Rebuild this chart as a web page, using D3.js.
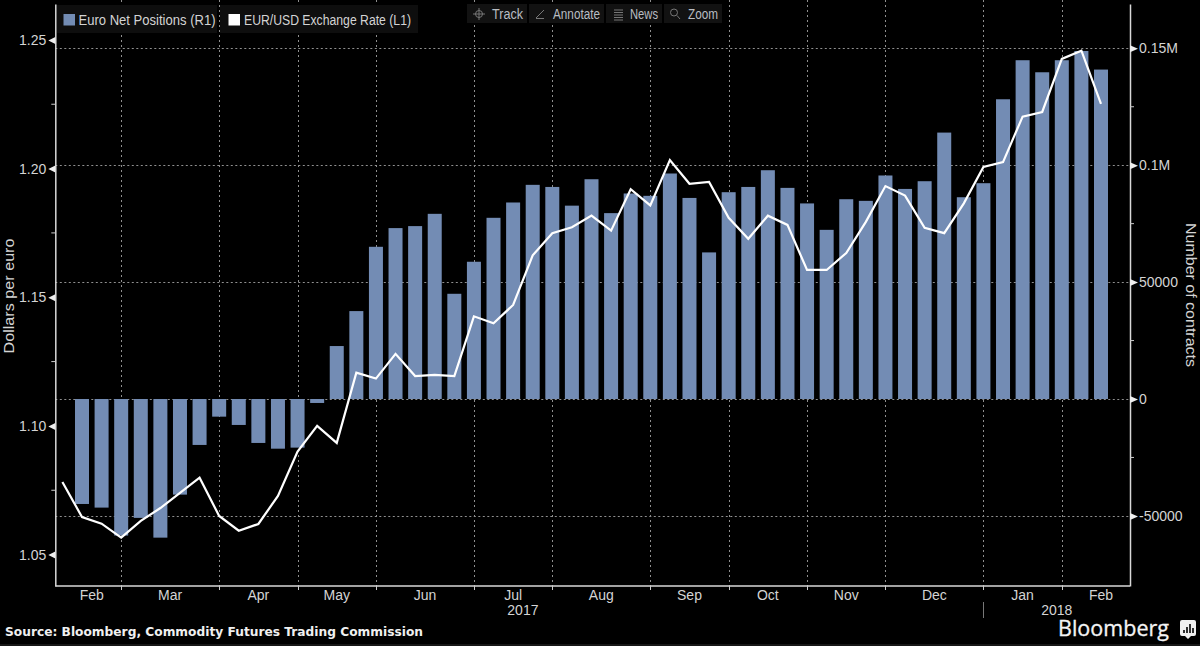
<!DOCTYPE html>
<html><head><meta charset="utf-8">
<script src="https://cdn.jsdelivr.net/npm/d3@7/dist/d3.min.js"></script>
<style>
html,body{margin:0;padding:0;background:#000;}
svg{display:block;}
text{font-family:"Liberation Sans Narrow","Liberation Sans",sans-serif;}
</style></head><body>
<svg id="c" width="1200" height="646"></svg>
<script>
const positions=[-44900,-46450,-58400,-50850,-59300,-40900,-19650,-7550,-11100,-18800,-21250,-20800,-1700,
22650,37600,65100,73100,73950,79200,45000,58700,77500,84050,91600,90700,82700,94000,79500,87900,86900,96450,86000,62700,
88450,90700,97850,90300,83650,72350,85450,84750,95600,89850,93150,113950,86300,92300,128200,144900,139750,144900,148850,140900];
const rates=[1.0782,1.0646,1.0620,1.0566,1.0631,1.0681,1.0740,1.0799,1.0650,1.0593,1.0619,1.0728,1.0900,1.1000,1.0934,
1.1207,1.1184,1.1280,1.1194,1.1198,1.1194,1.1426,1.1399,1.1470,1.1663,1.1749,1.1772,1.1817,1.1759,1.1920,1.1857,1.2033,
1.1941,1.1948,1.1809,1.1727,1.1817,1.1781,1.1606,1.1606,1.1672,1.1793,1.1932,1.1895,1.1770,1.1749,1.1865,1.2006,1.2025,
1.2202,1.2220,1.2426,1.2458,1.2251];
const monthLabels=["Feb","Mar","Apr","May","Jun","Jul","Aug","Sep","Oct","Nov","Dec","Jan","Feb"];
const monthStarts=[-1,2,7,11,15,20,24,29,33,37,41,46,50,54];
const leftTicks=[1.05,1.10,1.15,1.20,1.25];
const leftMinor=[1.075,1.125,1.175,1.225];
const rightTicks=[-50000,0,50000,100000,150000];
const rightMinor=[-25000,25000,75000,125000];
const legendItems=["Euro Net Positions (R1)","EUR/USD Exchange Rate (L1)"];
const toolItems=["Track","Annotate","News","Zoom"];

const svg=d3.select("#c");
const L=55.3,R=1130,T=4,B=586;
const BAR="#738cb4",TXT="#d4d4d4",GRID="#8f8f8f";
const x=d3.scaleLinear().domain([-1,52]).range([62.4,1101]);
const yL=d3.scaleLinear().domain([1.0378,1.26395]).range([B,T]);
const yR=d3.scaleLinear().domain([-79983,168948]).range([B,T]);

// gridlines
svg.append("g").selectAll("line").data(rightTicks).join("line")
  .attr("x1",L).attr("x2",R).attr("y1",d=>Math.round(yR(d))+.5).attr("y2",d=>Math.round(yR(d))+.5)
  .attr("stroke",GRID).attr("stroke-width",1).attr("stroke-dasharray","2 2.5");
svg.append("g").selectAll("line").data(monthStarts.slice(1,-1)).join("line")
  .attr("x1",d=>Math.round(x(d))+.5).attr("x2",d=>Math.round(x(d))+.5).attr("y1",0).attr("y2",B)
  .attr("stroke",GRID).attr("stroke-width",1).attr("stroke-dasharray","2 3");

// bars
const bw=14;
svg.append("g").selectAll("rect").data(positions).join("rect")
  .attr("x",(d,i)=>x(i)-bw/2).attr("width",bw)
  .attr("y",d=>Math.min(yR(d),yR(0))).attr("height",d=>Math.abs(yR(d)-yR(0)))
  .attr("fill",BAR);

// line
svg.append("path").datum(rates)
  .attr("d",d3.line().x((d,i)=>x(i-1)).y(d=>yL(d)))
  .attr("fill","none").attr("stroke","#fff").attr("stroke-width",2.2).attr("stroke-linejoin","miter");

// axes
function styleAxis(g){
  g.select(".domain").attr("stroke","#d8d8d8").attr("stroke-width",1.5);
  g.selectAll("text").attr("fill",TXT).attr("font-size",14);
}
const gl=svg.append("g").attr("transform",`translate(${L},0)`)
  .call(d3.axisLeft(yL).tickValues(leftTicks).tickSize(0).tickPadding(9).tickFormat(d3.format(".2f")));
styleAxis(gl);
const gr=svg.append("g").attr("transform",`translate(${R},0)`)
  .call(d3.axisRight(yR).tickValues(rightTicks).tickSize(0).tickPadding(9)
    .tickFormat(d=>d===150000?"0.15M":d===100000?"0.1M":String(d)));
styleAxis(gr);
gl.selectAll(".tick").append("path").attr("d","M0,-3.5L-7,0L0,3.5Z").attr("fill","#eee");
gr.selectAll(".tick").append("path").attr("d","M0,-3.5L8,0L0,3.5Z").attr("fill","#eee");
svg.append("g").selectAll("line").data(leftMinor).join("line")
  .attr("x1",L-4).attr("x2",L).attr("y1",d=>yL(d)).attr("y2",d=>yL(d)).attr("stroke","#ccc");
svg.append("g").selectAll("line").data(rightMinor).join("line")
  .attr("x1",R).attr("x2",R+4).attr("y1",d=>yR(d)).attr("y2",d=>yR(d)).attr("stroke","#ccc");

// bottom axis
svg.append("line").attr("x1",L).attr("x2",R).attr("y1",B).attr("y2",B).attr("stroke","#d8d8d8").attr("stroke-width",1.5);
svg.append("g").selectAll("line").data(monthStarts.slice(1,-1)).join("line")
  .attr("x1",d=>Math.round(x(d))+.5).attr("x2",d=>Math.round(x(d))+.5).attr("y1",B).attr("y2",B+4).attr("stroke","#ccc");
svg.append("g").selectAll("text").data(monthLabels).join("text")
  .attr("x",(d,i)=>(x(monthStarts[i])+x(monthStarts[i+1]))/2).attr("y",600)
  .attr("text-anchor","middle").attr("fill",TXT).attr("font-size",14).text(d=>d);
svg.append("text").attr("x",(x(-1)+x(46))/2).attr("y",615).attr("text-anchor","middle").attr("fill",TXT).attr("font-size",14).text("2017");
svg.append("text").attr("x",(x(46)+R)/2).attr("y",615).attr("text-anchor","middle").attr("fill",TXT).attr("font-size",14).text("2018");
svg.append("line").attr("x1",Math.round(x(46))+.5).attr("x2",Math.round(x(46))+.5).attr("y1",602).attr("y2",618).attr("stroke","#777");

// axis titles
svg.append("text").attr("transform","translate(14,296) rotate(-90)").attr("text-anchor","middle")
  .attr("fill",TXT).attr("font-size",15).attr("textLength",115).attr("lengthAdjust","spacingAndGlyphs").text("Dollars per euro");
svg.append("text").attr("transform","translate(1186,295) rotate(90)").attr("text-anchor","middle")
  .attr("fill",TXT).attr("font-size",15).attr("textLength",144).attr("lengthAdjust","spacingAndGlyphs").text("Number of contracts");

// legend
const lg=[{bx:57,bw:160,sx:63.5,tx:78.5,len:137,c:BAR},{bx:220,bw:198,sx:228.5,tx:244,len:167,c:"#fff"}];
lg.forEach((o,i)=>{
  svg.append("rect").attr("x",o.bx).attr("y",5).attr("width",o.bw).attr("height",28).attr("fill","#0e0e0e");
  svg.append("rect").attr("x",o.sx).attr("y",14).attr("width",11.5).attr("height",11.5).attr("fill",o.c);
  svg.append("text").attr("x",o.tx).attr("y",25).attr("fill",TXT).attr("font-size",14)
    .attr("textLength",o.len).attr("lengthAdjust","spacingAndGlyphs").text(legendItems[i]);
});

// toolbar
const tb=[{bx:467,bw:60,tx:492,len:31},{bx:529,bw:75,tx:553,len:47},{bx:606,bw:56,tx:630,len:28},{bx:664,bw:58,tx:688,len:30}];
tb.forEach((o,i)=>{
  svg.append("rect").attr("x",o.bx).attr("y",4).attr("width",o.bw).attr("height",19).attr("fill","#121212");
  svg.append("text").attr("x",o.tx).attr("y",18.5).attr("fill","#b9bdc2").attr("font-size",14)
    .attr("textLength",o.len).attr("lengthAdjust","spacingAndGlyphs").text(toolItems[i]);
});
const ic=svg.append("g").attr("stroke","#777").attr("fill","none").attr("stroke-width",1);
ic.append("circle").attr("cx",479).attr("cy",14).attr("r",3.5);
ic.append("path").attr("d","M473,14H485M479,8V20");
ic.append("path").attr("d","M536,18L544,10M536,18.5H544");
ic.append("path").attr("d","M614,10H623M614,12.5H623M614,15H623M614,17.5H623M614,20H623").attr("stroke-width",1.2);
ic.append("circle").attr("cx",674).attr("cy",12.5).attr("r",3.5);
ic.append("path").attr("d","M677,15.5L680,19");

// footer
svg.append("text").attr("x",5).attr("y",636).attr("fill","#f0f0f0").attr("font-size",12)
  .attr("style","font-family:'DejaVu Sans';font-weight:bold")
  .attr("textLength",418).attr("lengthAdjust","spacingAndGlyphs").text("Source: Bloomberg, Commodity Futures Trading Commission");
svg.append("text").attr("x",1058).attr("y",636).attr("fill","#f4f4f4").attr("font-size",21)
  .attr("style","font-family:'Open Sans'").attr("stroke","#f4f4f4").attr("stroke-width",.3)
  .attr("textLength",111).attr("lengthAdjust","spacingAndGlyphs").text("Bloomberg");
svg.append("path").attr("d","M1182,620H1194Q1196,620 1196,622V634Q1196,636 1194,636H1191L1188,639L1185,636H1182Q1180,636 1180,634V622Q1180,620 1182,620Z").attr("fill","#f0f0f0");
svg.append("path").attr("d","M1184,633V630M1187,633V627M1190,633V624M1193,633V628").attr("stroke","#000").attr("stroke-width",1.6);
svg.append("rect").attr("x",0).attr("y",644).attr("width",1200).attr("height",2).attr("fill","#161616");
</script>
</body></html>
